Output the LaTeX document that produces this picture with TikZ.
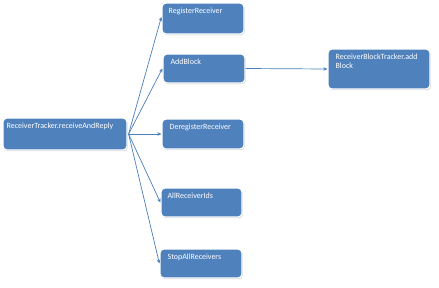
\documentclass[tikz,border=0pt]{standalone}
\usepackage{fontspec}
\setmainfont{Carlito}
\usetikzlibrary{arrows.meta,shadows}
\definecolor{boxblue}{HTML}{4F81BD}
\definecolor{linkblue}{HTML}{4A7EBB}
\tikzset{
  bluebox/.style={rectangle, rounded corners=4pt, fill=boxblue, draw=white, line width=1.2pt,
    drop shadow={opacity=0.35, shadow xshift=0.8pt, shadow yshift=-1.2pt},
    inner sep=0pt},
  boxtext/.style={anchor=north west, inner sep=0pt, text=white, align=left,
    font=\fontsize{8}{9.5}\selectfont},
  link/.style={draw=linkblue, line width=0.7pt, -{Stealth[length=4pt,width=3.5pt]}}
}
\begin{document}
\begin{tikzpicture}[x=1pt,y=-1pt]
\useasboundingbox[fill=white] (0,0) rectangle (439,287);
\node[bluebox, minimum width=124pt, minimum height=32pt] (rt) at (65,134) {};
\node[bluebox, minimum width=82pt, minimum height=31pt] (reg) at (203,18.5) {};
\node[bluebox, minimum width=82pt, minimum height=29pt] (add) at (204,68.5) {};
\node[bluebox, minimum width=102pt, minimum height=40pt] (rbt) at (379,69) {};
\node[bluebox, minimum width=82pt, minimum height=30pt] (dereg) at (203,134) {};
\node[bluebox, minimum width=81pt, minimum height=29pt] (ids) at (201.5,202.5) {};
\node[bluebox, minimum width=82pt, minimum height=29pt] (stop) at (201,263.5) {};

\node[boxtext] (trt) at ([shift={(4,5)}]rt.north west) {ReceiverTracker.receiveAndReply};
\node[boxtext] (treg) at ([shift={(7,5)}]reg.north west) {RegisterReceiver};
\node[boxtext] (tadd) at ([shift={(8,5)}]add.north west) {AddBlock};
\node[boxtext] (trbt) at ([shift={(8,5)}]rbt.north west) {ReceiverBlockTracker.add\\Block};
\node[boxtext] (tdereg) at ([shift={(8,5)}]dereg.north west) {DeregisterReceiver};
\node[boxtext] (tids) at ([shift={(7,5)}]ids.north west) {AllReceiverIds};
\node[boxtext] (tstop) at ([shift={(8,5)}]stop.north west) {StopAllReceivers};

\coordinate (src) at ([xshift=1pt]rt.east);
\draw[link] (src) -- ([yshift=1.5pt]reg.west);
\draw[link] (src) -- (add.west);
\draw[link] (src) -- (dereg.west);
\draw[link] (src) -- (ids.west);
\draw[link] (src) -- (stop.west);
\draw[link] (add.east) -- (rbt.west);
\end{tikzpicture}
\end{document}
